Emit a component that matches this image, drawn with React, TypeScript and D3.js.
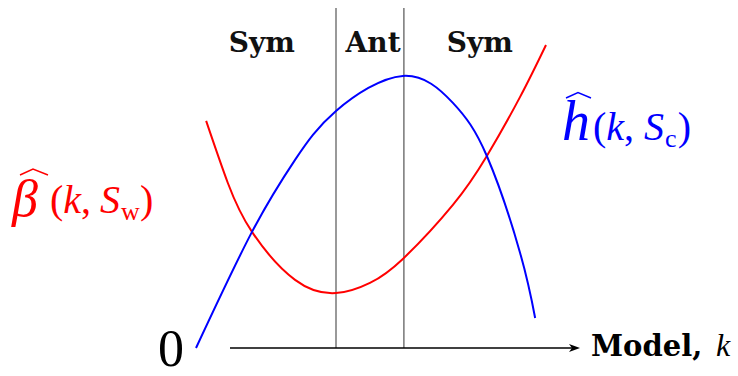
import React from "react";
import * as d3 from "d3";

// Model complexity k (arbitrary units) and the two curves drawn against it
const kH = [0, 16, 28.3, 40, 59.1, 73.4, 83.1, 92.6, 96.9];
const hVals = [0, 38.7, 62.7, 79, 90.7, 81.7, 64, 31.7, 10];

const kBeta = [2.9, 9.1, 16, 28.3, 40, 49.7, 59.1, 73.4, 83.1, 92.6, 100];
const betaVals = [75.7, 55, 38.7, 22.7, 18.3, 21.7, 29.7, 47.7, 64, 83.7, 101];

// Region boundaries along k and the labels of the three regions
const boundaries = [40, 59.4];
const regionLabels = ["Sym", "Ant", "Sym"];
const regionCenters = [18.8, 50.6, 81.1];

const W = 738;
const H = 376;

export default function App() {
  const x = d3.scaleLinear().domain([0, 100]).range([196, 546]);
  const y = d3.scaleLinear().domain([0, 100]).range([348, 48]);

  const line = d3
    .line<[number, number]>()
    .x((d) => x(d[0]))
    .y((d) => y(d[1]))
    .curve(d3.curveNatural);

  const hPath = line(kH.map((k, i) => [k, hVals[i]] as [number, number])) || "";
  const bPath = line(kBeta.map((k, i) => [k, betaVals[i]] as [number, number])) || "";

  const axisY = y(0);
  const axisX0 = 230;
  const axisX1 = 580;

  const roman = "'DejaVu Serif', serif";
  const math = "'Liberation Serif', 'DejaVu Serif', serif";

  return (
    <svg
      width={W}
      height={H}
      viewBox={`0 0 ${W} ${H}`}
      style={{ position: "absolute", left: 0, top: 0, background: "#fff" }}
    >
      {/* region boundaries */}
      {boundaries.map((b, i) => (
        <line
          key={i}
          x1={x(b)}
          x2={x(b)}
          y1={8}
          y2={axisY}
          stroke="#555"
          strokeWidth={1.2}
        />
      ))}

      {/* region labels */}
      {regionLabels.map((t, i) => (
        <text
          key={i}
          x={x(regionCenters[i])}
          y={52}
          textAnchor="middle"
          fontFamily={roman}
          fontWeight="bold"
          fontSize={28}
          fill="#111"
        >
          {t}
        </text>
      ))}

      {/* k axis with arrow */}
      <line x1={axisX0} x2={axisX1 - 8} y1={axisY} y2={axisY} stroke="#000" strokeWidth={1.5} />
      <path
        d={`M${axisX1},${axisY} L${axisX1 - 11},${axisY - 4} L${axisX1 - 8},${axisY} L${axisX1 - 11},${axisY + 4} Z`}
        fill="#000"
      />
      <text x={591} y={356} fontFamily={roman} fontSize={29} fontWeight="bold" fill="#000">
        Model,
      </text>
      <text x={716} y={356} fontFamily={math} fontSize={32} fontStyle="italic" fill="#000">
        k
      </text>
      <text x={158} y={366} fontFamily={math} fontSize={52} fill="#000">
        0
      </text>

      {/* curves */}
      <path d={bPath} fill="none" stroke="#ff0000" strokeWidth={2} />
      <path d={hPath} fill="none" stroke="#0000ff" strokeWidth={2} />

      {/* beta label */}
      <g fill="#ff0000">
        <path d="M20,175 L33,169 L48,175" fill="none" stroke="#ff0000" strokeWidth={1.4} />
        <text x={12} y={216} fontFamily={math} fontSize={52} fontStyle="italic">
          β
        </text>
        <text x={50} y={213} fontFamily={math} fontSize={40}>
          <tspan>(</tspan>
          <tspan fontStyle="italic">k</tspan>
          <tspan>,</tspan>
          <tspan dx={9} fontStyle="italic">S</tspan>
          <tspan fontSize={26} dy={7} dx={1}>w</tspan>
          <tspan dy={-7}>)</tspan>
        </text>
      </g>

      {/* h label */}
      <g fill="#0000ff">
        <path d="M566,98 L578,92.5 L591,98" fill="none" stroke="#0000ff" strokeWidth={1.4} />
        <text x={562} y={140} fontFamily={math} fontSize={56} fontStyle="italic">
          h
        </text>
        <text x={593} y={140} fontFamily={math} fontSize={40}>
          <tspan>(</tspan>
          <tspan fontStyle="italic">k</tspan>
          <tspan>,</tspan>
          <tspan dx={10} fontStyle="italic">S</tspan>
          <tspan fontSize={26} dy={7} dx={1}>c</tspan>
          <tspan dy={-7} dx={1}>)</tspan>
        </text>
      </g>
    </svg>
  );
}
